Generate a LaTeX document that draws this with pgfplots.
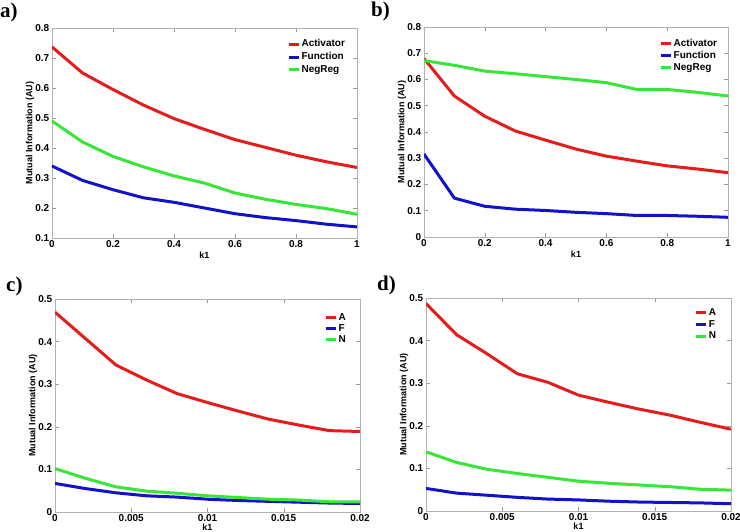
\documentclass[border=0pt]{standalone}
\usepackage{pgfplots}
\pgfplotsset{compat=1.18}
\usepackage{fontspec}
\setmainfont{Liberation Sans}
\newfontfamily\serifb{Liberation Serif}
\definecolor{mred}{RGB}{228,28,28}
\definecolor{mblue}{RGB}{18,18,200}
\definecolor{mgreen}{RGB}{55,230,55}
\pgfplotsset{
  mstyle/.style={
    scale only axis,
    scaled x ticks=false, scaled y ticks=false,
    axis line style={black!30},
    tick style={black!40, line width=0.5pt},
    major tick length=4pt,
    tick align=inside,
    /pgf/number format/assume math mode=true,
    every tick label/.append style={font=\fontsize{10}{11}\selectfont\bfseries, black, inner sep=2.5pt},
    label style={font=\fontsize{9}{10}\selectfont\bfseries},
    xlabel={k1},
    ylabel={Mutual Information (AU)},
    ylabel style={at={(axis description cs:-0.072,0.5)}, anchor=center},
    xlabel style={at={(axis description cs:0.5,-0.08)}, anchor=center},
    legend style={draw=none, fill=none, inner sep=0pt, anchor=north west,
      font=\fontsize{10}{11}\selectfont\bfseries,
      nodes={inner sep=1pt}},
    legend cell align=left,
    legend image code/.code={\draw[#1, line width=3pt] (0pt,0pt) -- (10.5pt,0pt);},
    every axis plot/.append style={line width=3pt, line join=round},
    xmin=0,
    clip=true,
  }
}
\begin{document}
\begin{tikzpicture}
\path[use as bounding box] (0pt,0pt) rectangle (740pt,531pt);
% panel a
\begin{axis}[mstyle, at={(52pt,293pt)}, anchor=south west, width=305pt, height=210pt,
  xmax=1, ymin=0.1, ymax=0.8,
  xtick={0,0.2,0.4,0.6,0.8,1}, xticklabels={0,0.2,0.4,0.6,0.8,1},
  ytick={0.1,0.2,0.3,0.4,0.5,0.6,0.7,0.8}, yticklabels={0.1,0.2,0.3,0.4,0.5,0.6,0.7,0.8},
  legend style={at={(axis description cs:0.770,0.950)}, row sep=2.3pt}]
\addplot[mred] coordinates {(0,0.737)(0.1,0.650)(0.2,0.595)(0.3,0.543)(0.4,0.498)(0.5,0.462)(0.6,0.428)(0.7,0.402)(0.8,0.376)(0.9,0.354)(1,0.335)};
\addplot[mblue] coordinates {(0,0.340)(0.1,0.292)(0.2,0.261)(0.3,0.234)(0.4,0.219)(0.5,0.200)(0.6,0.181)(0.7,0.168)(0.8,0.158)(0.9,0.146)(1,0.137)};
\addplot[mgreen] coordinates {(0,0.490)(0.1,0.420)(0.2,0.372)(0.3,0.337)(0.4,0.307)(0.5,0.283)(0.6,0.250)(0.7,0.229)(0.8,0.212)(0.9,0.198)(1,0.179)};
\legend{Activator,Function,NegReg}
\end{axis}
% panel b
\begin{axis}[mstyle, at={(424pt,294pt)}, anchor=south west, width=304pt, height=210pt,
  xmax=1, ymin=0, ymax=0.8,
  xtick={0,0.2,0.4,0.6,0.8,1}, xticklabels={0,0.2,0.4,0.6,0.8,1},
  ytick={0,0.1,0.2,0.3,0.4,0.5,0.6,0.7,0.8}, yticklabels={0,0.1,0.2,0.3,0.4,0.5,0.6,0.7,0.8},
  legend style={at={(axis description cs:0.773,0.948)}, row sep=1.5pt}]
\addplot[mred] coordinates {(0,0.680)(0.1,0.537)(0.2,0.460)(0.3,0.404)(0.4,0.369)(0.5,0.335)(0.6,0.308)(0.7,0.289)(0.8,0.271)(0.9,0.259)(1,0.245)};
\addplot[mblue] coordinates {(0,0.316)(0.1,0.148)(0.2,0.117)(0.3,0.106)(0.4,0.101)(0.5,0.094)(0.6,0.089)(0.7,0.082)(0.8,0.082)(0.9,0.079)(1,0.075)};
\addplot[mgreen] coordinates {(0,0.672)(0.1,0.654)(0.2,0.632)(0.3,0.622)(0.4,0.611)(0.5,0.600)(0.6,0.588)(0.7,0.562)(0.8,0.562)(0.9,0.551)(1,0.537)};
\legend{Activator,Function,NegReg}
\end{axis}
% panel c
\begin{axis}[mstyle, at={(55pt,19pt)}, anchor=south west, width=305pt, height=213pt,
  xmax=0.02, ymin=0, ymax=0.5,
  xtick={0,0.005,0.01,0.015,0.02}, xticklabels={0,0.005,0.01,0.015,0.02},
  ytick={0,0.1,0.2,0.3,0.4,0.5}, yticklabels={0,0.1,0.2,0.3,0.4,0.5},
  xlabel style={at={(axis description cs:0.5,-0.072)}},
  legend style={at={(axis description cs:0.882,0.938)}, row sep=0.8pt}]
\addplot[mred] coordinates {(0,0.469)(0.002,0.407)(0.004,0.345)(0.006,0.310)(0.008,0.278)(0.010,0.257)(0.012,0.237)(0.014,0.218)(0.016,0.204)(0.018,0.191)(0.020,0.189)};
\addplot[mblue] coordinates {(0,0.067)(0.002,0.055)(0.004,0.045)(0.006,0.038)(0.008,0.035)(0.010,0.030)(0.012,0.027)(0.014,0.025)(0.016,0.023)(0.018,0.021)(0.020,0.020)};
\addplot[mgreen] coordinates {(0,0.102)(0.002,0.079)(0.004,0.059)(0.006,0.049)(0.008,0.044)(0.010,0.038)(0.012,0.034)(0.014,0.030)(0.016,0.028)(0.018,0.024)(0.020,0.024)};
\legend{A,F,N}
\end{axis}
% panel d
\begin{axis}[mstyle, at={(426pt,20pt)}, anchor=south west, width=305pt, height=213pt,
  xmax=0.02, ymin=0, ymax=0.5,
  xtick={0,0.005,0.01,0.015,0.02}, xticklabels={0,0.005,0.01,0.015,0.02},
  ytick={0,0.1,0.2,0.3,0.4,0.5}, yticklabels={0,0.1,0.2,0.3,0.4,0.5},
  xlabel style={at={(axis description cs:0.5,-0.072)}},
  legend style={at={(axis description cs:0.879,0.955)}, row sep=1.2pt}]
\addplot[mred] coordinates {(0,0.487)(0.002,0.414)(0.004,0.369)(0.006,0.322)(0.008,0.302)(0.010,0.272)(0.012,0.255)(0.014,0.239)(0.016,0.225)(0.018,0.208)(0.020,0.192)};
\addplot[mblue] coordinates {(0,0.053)(0.002,0.042)(0.004,0.037)(0.006,0.032)(0.008,0.028)(0.010,0.026)(0.012,0.023)(0.014,0.021)(0.016,0.020)(0.018,0.019)(0.020,0.017)};
\addplot[mgreen] coordinates {(0,0.139)(0.002,0.114)(0.004,0.098)(0.006,0.088)(0.008,0.079)(0.010,0.070)(0.012,0.065)(0.014,0.061)(0.016,0.057)(0.018,0.051)(0.020,0.049)};
\legend{A,F,N}
\end{axis}
% panel letters
\node[anchor=north west, inner sep=0pt, font=\serifb\bfseries\fontsize{21}{21}\selectfont] at (0pt,528pt) {a)};
\node[anchor=north west, inner sep=0pt, font=\serifb\bfseries\fontsize{21}{21}\selectfont] at (371pt,529pt) {b)};
\node[anchor=north west, inner sep=0pt, font=\serifb\bfseries\fontsize{21}{21}\selectfont] at (6pt,254pt) {c)};
\node[anchor=north west, inner sep=0pt, font=\serifb\bfseries\fontsize{21}{21}\selectfont] at (377pt,255pt) {d)};
\end{tikzpicture}
\end{document}
